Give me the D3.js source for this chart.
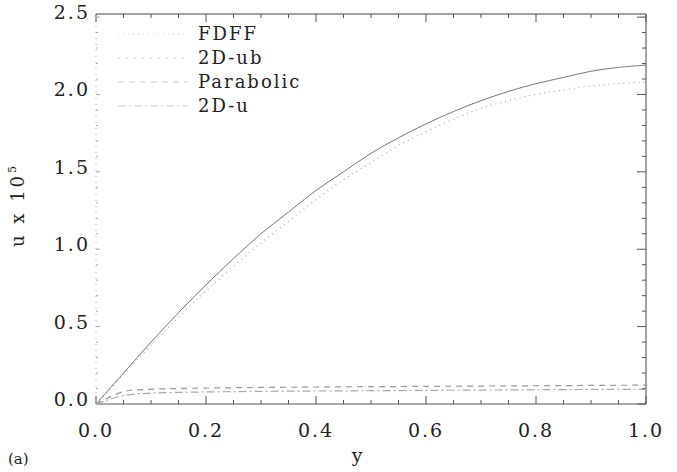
<!DOCTYPE html>
<html>
<head>
<meta charset="utf-8">
<script src="https://cdn.jsdelivr.net/npm/d3@7"></script>
<style>
  body { margin: 0; background: #fff; }
  text { font-family: "DejaVu Serif", "Liberation Serif", serif; fill: #222; }
</style>
</head>
<body>
<svg id="chart" width="677" height="472"></svg>
<script>
// positions across the channel
const yPos = [0, 0.05, 0.1, 0.15, 0.2, 0.25, 0.3, 0.35, 0.4, 0.45, 0.5,
              0.55, 0.6, 0.65, 0.7, 0.75, 0.8, 0.85, 0.9, 0.95, 1.0];

const fdff = [0, 0.19, 0.38, 0.56, 0.73, 0.89, 1.04, 1.18, 1.32, 1.45, 1.56,
              1.67, 1.76, 1.84, 1.91, 1.96, 2.00, 2.03, 2.055, 2.07, 2.08];
const ub2d = [0, 0.20, 0.40, 0.59, 0.77, 0.94, 1.10, 1.24, 1.38, 1.50, 1.62,
              1.72, 1.81, 1.89, 1.96, 2.02, 2.07, 2.11, 2.15, 2.175, 2.19];
const parabolic = [0, 0.08, 0.095, 0.10, 0.103, 0.105, 0.107, 0.108, 0.11, 0.111, 0.112,
                   0.113, 0.114, 0.115, 0.116, 0.117, 0.118, 0.119, 0.12, 0.121, 0.122];
const u2d = [0, 0.055, 0.07, 0.075, 0.078, 0.08, 0.082, 0.083, 0.084, 0.085, 0.086,
             0.087, 0.088, 0.089, 0.09, 0.091, 0.092, 0.093, 0.094, 0.094, 0.095];

const xTicks = [0, 0.2, 0.4, 0.6, 0.8, 1.0];
const yTicks = [0, 0.5, 1.0, 1.5, 2.0, 2.5];
const legendLabels = ["FDFF", "2D-ub", "Parabolic", "2D-u"];

const series = [
    { name: "FDFF", values: fdff, color: "#aaa", dash: "1,4", width: 1.2 },
    { name: "2D-ub", values: ub2d, color: "#777", dash: null, width: 1 },
    { name: "Parabolic", values: parabolic, color: "#999", dash: "6,5", width: 1.2 },
    { name: "2D-u", values: u2d, color: "#aaa", dash: "8,3,2,3", width: 1.2 }
];

const margin = { top: 14, right: 31, bottom: 68, left: 96 };
const width = 677, height = 472;
const innerWidth = width - margin.left - margin.right;
const innerHeight = height - margin.top - margin.bottom;

const svg = d3.select("#chart");
const inner = svg.append("g")
    .attr("transform", `translate(${margin.left}, ${margin.top})`);

const xScale = d3.scaleLinear().domain([0, 1]).range([0, innerWidth]);
const yScale = d3.scaleLinear().domain([0, 2.52]).range([innerHeight, 0]);

// frame: left side is faded in the scan
inner.append("line")
    .attr("x1", 0).attr("x2", 0).attr("y1", 0).attr("y2", innerHeight)
    .attr("stroke", "#aaa").attr("stroke-dasharray", "1,5");
inner.append("line")
    .attr("x1", 0).attr("x2", innerWidth).attr("y1", 0).attr("y2", 0)
    .attr("stroke", "#444");
inner.append("line")
    .attr("x1", innerWidth).attr("x2", innerWidth).attr("y1", 0).attr("y2", innerHeight)
    .attr("stroke", "#444");
inner.append("line")
    .attr("x1", 0).attr("x2", innerWidth).attr("y1", innerHeight).attr("y2", innerHeight)
    .attr("stroke", "#555");

// minor + major ticks on all four sides, pointing inward
const xMinor = d3.range(0, 1.0001, 0.05);
const yMinor = d3.range(0, 2.5001, 0.1);
const isMajorX = v => Math.abs(v * 5 - Math.round(v * 5)) < 1e-6;
const isMajorY = v => Math.abs(v * 2 - Math.round(v * 2)) < 1e-6;

inner.append("g").selectAll("line")
    .data(xMinor)
    .join("line")
        .attr("x1", d => xScale(d)).attr("x2", d => xScale(d))
        .attr("y1", innerHeight).attr("y2", d => innerHeight - (isMajorX(d) ? 8 : 4))
        .attr("stroke", "#555");
inner.append("g").selectAll("line")
    .data(xMinor)
    .join("line")
        .attr("x1", d => xScale(d)).attr("x2", d => xScale(d))
        .attr("y1", 0).attr("y2", d => isMajorX(d) ? 8 : 4)
        .attr("stroke", "#555");
inner.append("g").selectAll("line")
    .data(yMinor)
    .join("line")
        .attr("y1", d => yScale(d)).attr("y2", d => yScale(d))
        .attr("x1", innerWidth).attr("x2", d => innerWidth - (isMajorY(d) ? 9 : 4))
        .attr("stroke", "#555");
inner.append("g").selectAll("line")
    .data(yMinor)
    .join("line")
        .attr("y1", d => yScale(d)).attr("y2", d => yScale(d))
        .attr("x1", 0).attr("x2", d => isMajorY(d) ? 4 : 2)
        .attr("stroke", "#aaa");

// tick labels
inner.append("g").selectAll("text")
    .data(xTicks)
    .join("text")
        .attr("x", d => xScale(d))
        .attr("y", innerHeight + 33)
        .attr("text-anchor", "middle")
        .attr("font-size", 19)
        .attr("letter-spacing", 2)
        .text(d => d.toFixed(1));
inner.append("g").selectAll("text")
    .data(yTicks)
    .join("text")
        .attr("x", -6)
        .attr("y", d => yScale(d) + 2)
        .attr("text-anchor", "end")
        .attr("font-size", 19)
        .attr("letter-spacing", 2)
        .text(d => d.toFixed(1));

// curves
const line = d3.line()
    .x((d, i) => xScale(yPos[i]))
    .y(d => yScale(d))
    .curve(d3.curveCatmullRom);

inner.selectAll(".curve")
    .data(series)
    .join("path")
        .attr("class", "curve")
        .attr("d", d => line(d.values))
        .attr("fill", "none")
        .attr("stroke", d => d.color)
        .attr("stroke-width", d => d.width)
        .attr("stroke-dasharray", d => d.dash);

// legend
const legend = inner.append("g").attr("transform", "translate(0, 20)");
legend.selectAll("line")
    .data(series)
    .join("line")
        .attr("x1", 22).attr("x2", 92)
        .attr("y1", (d, i) => i * 24).attr("y2", (d, i) => i * 24)
        .attr("stroke", "#ccc")
        .attr("stroke-dasharray", d => d.dash || "2,6");
legend.selectAll("text")
    .data(legendLabels)
    .join("text")
        .attr("x", 102)
        .attr("y", (d, i) => i * 24 + 6)
        .attr("font-size", 18)
        .attr("letter-spacing", 2)
        .text(d => d);

// axis titles
svg.append("text")
    .attr("x", 357).attr("y", 462)
    .attr("text-anchor", "middle")
    .attr("font-size", 19)
    .text("y");

const yTitle = svg.append("text")
    .attr("transform", "translate(24, 205) rotate(-90)")
    .attr("text-anchor", "middle")
    .attr("font-size", 18)
    .attr("letter-spacing", 3);
yTitle.append("tspan").text("u x 10");
yTitle.append("tspan").attr("dy", -8).attr("font-size", 11).text("5");

svg.append("text")
    .attr("x", 8).attr("y", 464)
    .attr("font-size", 15)
    .text("(a)");
</script>
</body>
</html>
